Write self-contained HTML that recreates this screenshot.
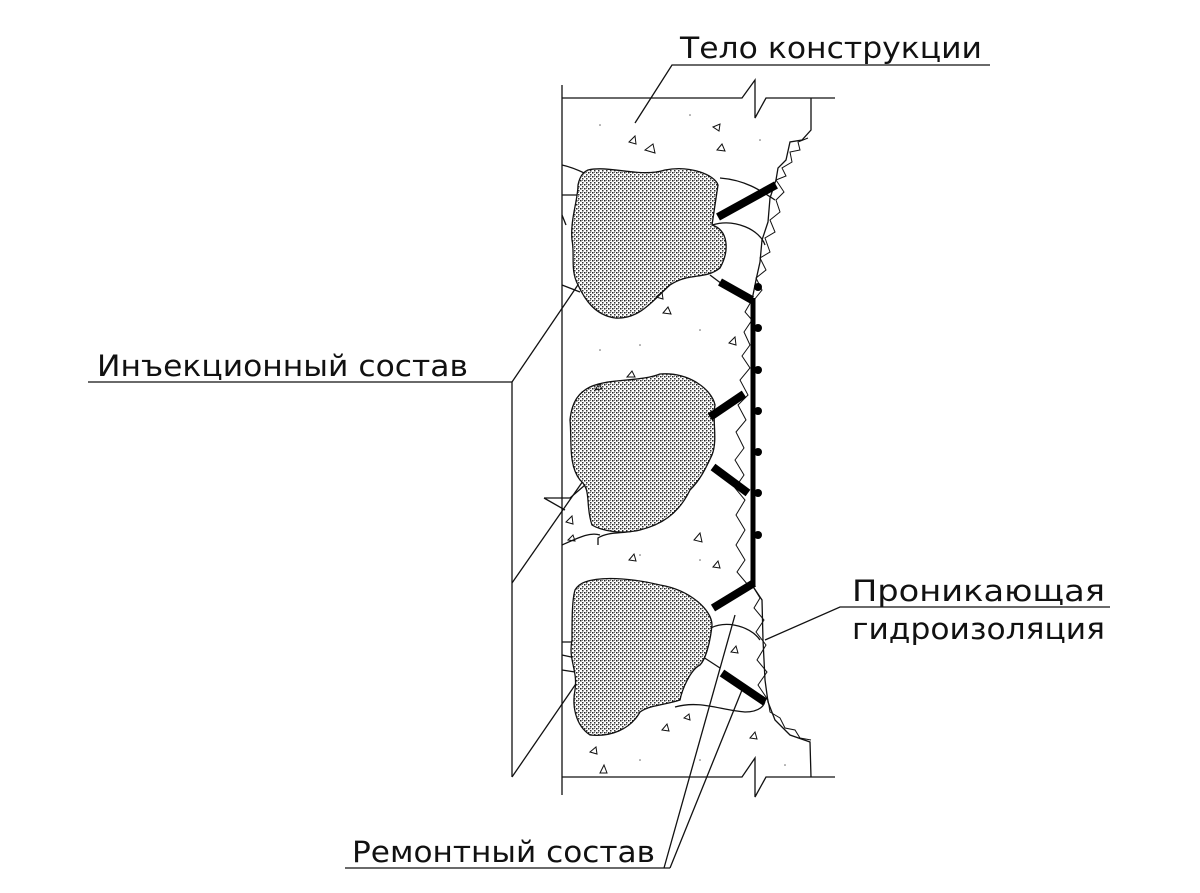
<!DOCTYPE html>
<html><head><meta charset="utf-8"><style>
html,body{margin:0;padding:0;background:#fff;}
svg{display:block}
text{font-family:"DejaVu Sans","Liberation Sans",sans-serif;font-size:29px;fill:#111;}
</style></head><body>
<svg width="1200" height="893" viewBox="0 0 1200 893" xmlns="http://www.w3.org/2000/svg">
<defs>
<pattern id="dots" width="4" height="4" patternUnits="userSpaceOnUse">
<rect width="4" height="4" fill="#fff"/>
<rect x="0" y="0" width="1.5" height="1.5" fill="#222"/>
<rect x="2" y="2" width="1.5" height="1.5" fill="#333"/>
<rect x="2" y="0" width="1" height="1" fill="#777"/>
</pattern>
</defs>
<g fill="none" stroke="#111" stroke-width="1.3">
<line x1="562" y1="85" x2="562" y2="795"/>
<polyline points="562,98 742,98 755,80 755,118 766,98 835,98"/>
<polyline points="562,777 742,777 755,758 755,797 766,777 835,777"/>
<polyline points="811,98 811,130 802,140 790,142 786,160 778,168 776,180 770,198 768,222 762,240 760,262 756,280 752,300"/>
<polyline points="752,585 762,600 763,640 765,680 768,702 775,720 790,735 810,742 811,777"/>
<polyline points="808,138 798,142 800,150 790,152 792,162 782,168 786,176 776,180 784,192 776,200 780,212 770,220 775,232 765,238 770,252 760,258 766,270 756,278 762,290 754,300" stroke-width="1"/>
<polyline points="752,300 745,312 752,320 744,332 750,345 742,356 750,368 740,380 748,395 738,405 746,420 736,432 744,448 735,460 744,475 735,488 745,500 736,515 745,530 736,545 745,560 737,572 748,585" stroke-width="1"/>
<polyline points="752,585 760,598 754,608 764,620 756,632 766,645 757,660 767,672 758,685 768,700 770,712 780,718 785,728 795,730 800,738 811,740" stroke-width="1"/>
<path d="M562,165 C585,170 590,180 605,178"/>
<path d="M562,195 L578,195 L582,215"/>
<path d="M562,215 L566,225"/>
<path d="M720,178 C745,180 760,190 775,200"/>
<path d="M712,225 C735,218 760,230 765,245"/>
<path d="M562,285 L580,292"/>
<path d="M710,275 L730,290"/>
<path d="M562,545 C580,537 590,532 600,535"/>
<path d="M598,545 L598,538 C610,530 630,535 640,528"/>
<path d="M562,642 L580,642"/>
<path d="M562,655 L585,660"/>
<path d="M562,670 L575,672"/>
<path d="M705,632 C720,618 750,625 760,640"/>
<path d="M675,707 C700,700 720,710 745,712 C760,712 765,705 765,700"/>
<path d="M700,655 L720,668"/>
<polyline points="544,498 570,498 585,485" />
<polyline points="544,498 565,510" />
<polyline points="990,65 672,65 635,123"/>
<polyline points="88,382 512,382 512,777"/>
<line x1="512" y1="382" x2="603" y2="248"/>
<line x1="512" y1="583" x2="606" y2="448"/>
<line x1="512" y1="777" x2="606" y2="640"/>
<polyline points="1110,607 840,607 765,640"/>
<polyline points="345,868 670,868"/>
<line x1="664" y1="868" x2="735" y2="615"/>
<line x1="670" y1="868" x2="742" y2="690"/>
</g>
<g stroke="#111" stroke-width="1.3" fill="url(#dots)">
<path d="M588,170 C610,165 640,178 665,170 C690,165 715,175 718,185 L712,225 C728,230 730,250 720,268 C705,280 690,272 670,285 C655,298 640,320 615,318 C595,315 585,300 578,285 C570,270 575,255 572,240 C570,220 578,200 578,185 C580,175 584,172 588,170 Z"/>
<path d="M590,387 C610,378 640,382 660,374 C690,372 712,390 715,405 C712,420 718,440 712,455 C705,470 700,480 690,490 C678,515 660,525 640,530 C620,535 600,530 592,525 C585,505 592,490 580,480 C568,465 572,440 570,420 C572,400 580,392 590,387 Z"/>
<path d="M585,582 C605,575 640,580 660,585 C690,590 712,610 712,625 C710,645 705,660 700,665 C690,670 682,690 680,700 C665,705 650,705 640,712 C630,730 610,737 590,735 C575,725 572,705 575,690 C578,670 568,660 572,640 C572,620 572,600 575,590 C578,585 582,583 585,582 Z"/>
</g>
<g fill="none" stroke="#111" stroke-width="1">
<path d="M629,142 l6,-6 l1,8 z"/><path d="M645,150 l8,-6 l2,9 z"/><path d="M713,127 l7,-3 l-1,7 z"/><path d="M717,150 l5,-6 l3,7 z"/>
<path d="M656,297 l6,-5 l1,7 z"/><path d="M663,313 l5,-6 l3,7 z"/><path d="M729,343 l6,-6 l1,8 z"/>
<path d="M627,377 l5,-6 l3,6 z"/><path d="M595,390 l4,-6 l3,5 z"/>
<path d="M566,522 l6,-6 l1,8 z"/><path d="M568,540 l5,-5 l2,6 z"/><path d="M694,540 l6,-7 l2,9 z"/><path d="M629,560 l5,-6 l2,7 z"/><path d="M713,567 l5,-6 l2,7 z"/>
<path d="M731,652 l5,-6 l2,7 z"/><path d="M590,752 l6,-5 l1,7 z"/><path d="M662,730 l5,-6 l2,7 z"/><path d="M750,738 l5,-6 l2,7 z"/><path d="M600,773 l4,-8 l3,8 z"/><path d="M684,718 l5,-4 l1,6 z"/>
</g>
<g fill="#666">
<circle cx="600" cy="125" r="0.8"/><circle cx="690" cy="115" r="0.8"/><circle cx="760" cy="140" r="0.8"/><circle cx="640" cy="345" r="0.8"/><circle cx="700" cy="330" r="0.8"/><circle cx="600" cy="350" r="0.8"/><circle cx="640" cy="555" r="0.8"/><circle cx="700" cy="560" r="0.8"/><circle cx="640" cy="760" r="0.8"/><circle cx="700" cy="760" r="0.8"/><circle cx="785" cy="765" r="0.8"/>
</g>
<g stroke="#000" stroke-linecap="butt" fill="#000">
<line x1="753" y1="298" x2="753" y2="585" stroke-width="5"/>
<line x1="718" y1="217" x2="776" y2="185" stroke-width="8"/>
<line x1="720" y1="282" x2="752" y2="300" stroke-width="8"/>
<line x1="710" y1="417" x2="744" y2="394" stroke-width="8"/>
<line x1="713" y1="467" x2="748" y2="493" stroke-width="8"/>
<line x1="713" y1="608" x2="754" y2="583" stroke-width="8"/>
<line x1="722" y1="673" x2="765" y2="702" stroke-width="8"/>
<g stroke="none">
<circle cx="758" cy="287" r="4"/><circle cx="758" cy="328" r="4"/><circle cx="758" cy="370" r="4"/><circle cx="758" cy="411" r="4"/><circle cx="758" cy="452" r="4"/><circle cx="758" cy="493" r="4"/><circle cx="758" cy="535" r="4"/>
</g>
</g>
<text x="680" y="58" textLength="302" lengthAdjust="spacingAndGlyphs">Тело конструкции</text>
<text x="97" y="376" textLength="371" lengthAdjust="spacingAndGlyphs">Инъекционный состав</text>
<text x="852" y="601" textLength="253" lengthAdjust="spacingAndGlyphs">Проникающая</text>
<text x="852" y="639" textLength="253" lengthAdjust="spacingAndGlyphs">гидроизоляция</text>
<text x="352" y="862" textLength="303" lengthAdjust="spacingAndGlyphs">Ремонтный состав</text>
</svg>
</body></html>
